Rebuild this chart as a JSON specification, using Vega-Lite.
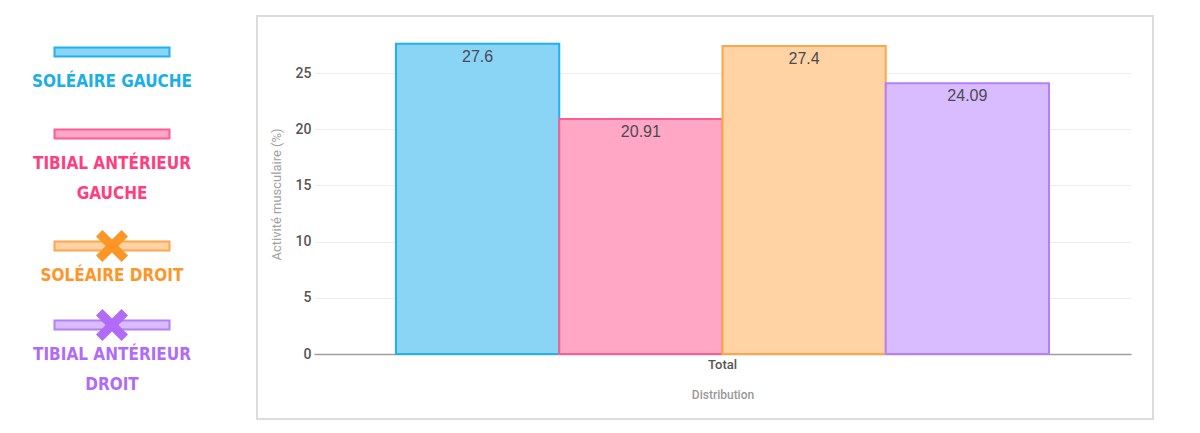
{
  "$schema": "https://vega.github.io/schema/vega-lite/v6.json",
  "description": "Activité musculaire par muscle, barres groupées avec légende à gauche.",
  "padding": {"top": 15, "left": 0, "right": 0, "bottom": 0},
  "spacing": 32,
  "datasets": {
    "muscles": [
      {"muscle": "Soléaire gauche", "group": "Total", "value": 27.6, "label": "SOLÉAIRE GAUCHE"},
      {"muscle": "Tibial antérieur gauche", "group": "Total", "value": 20.91, "label": "TIBIAL ANTÉRIEUR\nGAUCHE"},
      {"muscle": "Soléaire droit", "group": "Total", "value": 27.4, "label": "SOLÉAIRE DROIT"},
      {"muscle": "Tibial antérieur droit", "group": "Total", "value": 24.09, "label": "TIBIAL ANTÉRIEUR\nDROIT"}
    ]
  },
  "hconcat": [
    {
      "spacing": 0,
      "bounds": "flush",
      "vconcat": [
        {
          "width": 224, "height": 72,
          "data": {"name": "muscles"},
          "transform": [{"filter": "datum.muscle == 'Soléaire gauche'"}],
          "layer": [
            {"mark": {"type": "point", "shape": "M-1,-0.08H1V0.08H-1Z", "size": 13225, "filled": true, "opacity": 1, "strokeWidth": 2},
             "encoding": {
               "fill": {"field": "muscle", "type": "nominal", "scale": {"domain": ["Soléaire gauche", "Tibial antérieur gauche", "Soléaire droit", "Tibial antérieur droit"], "range": ["#8ad4f6", "#ffa7c4", "#ffd3a3", "#d9bbff"]}, "legend": null},
               "stroke": {"field": "muscle", "type": "nominal", "scale": {"domain": ["Soléaire gauche", "Tibial antérieur gauche", "Soléaire droit", "Tibial antérieur droit"], "range": ["#1fb2ec", "#ff5c91", "#ffa64d", "#b57ff7"]}, "legend": null}
             }},
            {"mark": {"type": "text", "align": "center", "baseline": "top", "dy": 22, "font": "DejaVu Sans Condensed, sans-serif", "fontWeight": "bold", "fontSize": 17, "letterSpacing": -0.7, "lineBreak": "\n", "lineHeight": 30},
             "encoding": {
               "text": {"field": "label", "type": "nominal"},
               "color": {"field": "muscle", "type": "nominal", "scale": {"domain": ["Soléaire gauche", "Tibial antérieur gauche", "Soléaire droit", "Tibial antérieur droit"], "range": ["#1aaeea", "#ff3d7f", "#ff9526", "#b26bf6"]}, "legend": null}
             }}
          ]
        },
        {
          "width": 224, "height": 92,
          "data": {"name": "muscles"},
          "transform": [{"filter": "datum.muscle == 'Tibial antérieur gauche'"}],
          "layer": [
            {"mark": {"type": "point", "shape": "M-1,-0.08H1V0.08H-1Z", "size": 13225, "filled": true, "opacity": 1, "strokeWidth": 2},
             "encoding": {
               "fill": {"field": "muscle", "type": "nominal", "scale": {"domain": ["Soléaire gauche", "Tibial antérieur gauche", "Soléaire droit", "Tibial antérieur droit"], "range": ["#8ad4f6", "#ffa7c4", "#ffd3a3", "#d9bbff"]}, "legend": null},
               "stroke": {"field": "muscle", "type": "nominal", "scale": {"domain": ["Soléaire gauche", "Tibial antérieur gauche", "Soléaire droit", "Tibial antérieur droit"], "range": ["#1fb2ec", "#ff5c91", "#ffa64d", "#b57ff7"]}, "legend": null}
             }},
            {"mark": {"type": "text", "align": "center", "baseline": "top", "dy": 22, "font": "DejaVu Sans Condensed, sans-serif", "fontWeight": "bold", "fontSize": 17, "letterSpacing": -0.7, "lineBreak": "\n", "lineHeight": 30},
             "encoding": {
               "text": {"field": "label", "type": "nominal"},
               "color": {"field": "muscle", "type": "nominal", "scale": {"domain": ["Soléaire gauche", "Tibial antérieur gauche", "Soléaire droit", "Tibial antérieur droit"], "range": ["#1aaeea", "#ff3d7f", "#ff9526", "#b26bf6"]}, "legend": null}
             }}
          ]
        },
        {
          "width": 224, "height": 132,
          "data": {"name": "muscles"},
          "transform": [{"filter": "datum.muscle == 'Soléaire droit'"}],
          "layer": [
            {"mark": {"type": "point", "shape": "M-1,-0.08H1V0.08H-1Z", "size": 13225, "filled": true, "opacity": 1, "strokeWidth": 2},
             "encoding": {
               "fill": {"field": "muscle", "type": "nominal", "scale": {"domain": ["Soléaire gauche", "Tibial antérieur gauche", "Soléaire droit", "Tibial antérieur droit"], "range": ["#8ad4f6", "#ffa7c4", "#ffd3a3", "#d9bbff"]}, "legend": null},
               "stroke": {"field": "muscle", "type": "nominal", "scale": {"domain": ["Soléaire gauche", "Tibial antérieur gauche", "Soléaire droit", "Tibial antérieur droit"], "range": ["#1fb2ec", "#ff5c91", "#ffa64d", "#b57ff7"]}, "legend": null}
             }},
            {"mark": {"type": "point", "shape": "M-1,-0.6L-0.6,-1L0,-0.4L0.6,-1L1,-0.6L0.4,0L1,0.6L0.6,1L0,0.4L-0.6,1L-1,0.6L-0.4,0Z", "size": 1024, "filled": true, "opacity": 1},
             "encoding": {
               "color": {"field": "muscle", "type": "nominal", "scale": {"domain": ["Soléaire gauche", "Tibial antérieur gauche", "Soléaire droit", "Tibial antérieur droit"], "range": ["#1aaeea", "#ff3d7f", "#ff9526", "#b26bf6"]}, "legend": null}
             }},
            {"mark": {"type": "text", "align": "center", "baseline": "top", "dy": 22, "font": "DejaVu Sans Condensed, sans-serif", "fontWeight": "bold", "fontSize": 17, "letterSpacing": -0.7, "lineBreak": "\n", "lineHeight": 30},
             "encoding": {
               "text": {"field": "label", "type": "nominal"},
               "color": {"field": "muscle", "type": "nominal", "scale": {"domain": ["Soléaire gauche", "Tibial antérieur gauche", "Soléaire droit", "Tibial antérieur droit"], "range": ["#1aaeea", "#ff3d7f", "#ff9526", "#b26bf6"]}, "legend": null}
             }}
          ]
        },
        {
          "width": 224, "height": 26,
          "data": {"name": "muscles"},
          "transform": [{"filter": "datum.muscle == 'Tibial antérieur droit'"}],
          "layer": [
            {"mark": {"type": "point", "shape": "M-1,-0.08H1V0.08H-1Z", "size": 13225, "filled": true, "opacity": 1, "strokeWidth": 2},
             "encoding": {
               "fill": {"field": "muscle", "type": "nominal", "scale": {"domain": ["Soléaire gauche", "Tibial antérieur gauche", "Soléaire droit", "Tibial antérieur droit"], "range": ["#8ad4f6", "#ffa7c4", "#ffd3a3", "#d9bbff"]}, "legend": null},
               "stroke": {"field": "muscle", "type": "nominal", "scale": {"domain": ["Soléaire gauche", "Tibial antérieur gauche", "Soléaire droit", "Tibial antérieur droit"], "range": ["#1fb2ec", "#ff5c91", "#ffa64d", "#b57ff7"]}, "legend": null}
             }},
            {"mark": {"type": "point", "shape": "M-1,-0.6L-0.6,-1L0,-0.4L0.6,-1L1,-0.6L0.4,0L1,0.6L0.6,1L0,0.4L-0.6,1L-1,0.6L-0.4,0Z", "size": 1024, "filled": true, "opacity": 1},
             "encoding": {
               "color": {"field": "muscle", "type": "nominal", "scale": {"domain": ["Soléaire gauche", "Tibial antérieur gauche", "Soléaire droit", "Tibial antérieur droit"], "range": ["#1aaeea", "#ff3d7f", "#ff9526", "#b26bf6"]}, "legend": null}
             }},
            {"mark": {"type": "text", "align": "center", "baseline": "top", "dy": 22, "font": "DejaVu Sans Condensed, sans-serif", "fontWeight": "bold", "fontSize": 17, "letterSpacing": -0.7, "lineBreak": "\n", "lineHeight": 30},
             "encoding": {
               "text": {"field": "label", "type": "nominal"},
               "color": {"field": "muscle", "type": "nominal", "scale": {"domain": ["Soléaire gauche", "Tibial antérieur gauche", "Soléaire droit", "Tibial antérieur droit"], "range": ["#1aaeea", "#ff3d7f", "#ff9526", "#b26bf6"]}, "legend": null}
             }}
          ]
        }
      ]
    },
    {
      "width": 896,
      "height": 403,
      "view": {"stroke": "#dcdcdc", "strokeWidth": 2},
      "data": {"name": "muscles"},
      "encoding": {
        "x": {
          "field": "group", "type": "nominal",
          "scale": {"range": [57, 874], "paddingInner": 0, "paddingOuter": 0.1256},
          "axis": {
            "orient": "bottom", "offset": -65, "labelAngle": 0,
            "domainColor": "#9e9e9e", "domainWidth": 1.5, "ticks": false,
            "labelPadding": 4, "labelColor": "#555555", "labelFont": "Roboto", "labelFontSize": 13, "labelFontWeight": 500,
            "title": "Distribution", "titleColor": "#999999", "titleFont": "Roboto", "titleFontSize": 12, "titleFontWeight": 500, "titlePadding": 18
          }
        },
        "xOffset": {
          "field": "muscle", "type": "nominal",
          "sort": ["Soléaire gauche", "Tibial antérieur gauche", "Soléaire droit", "Tibial antérieur droit"],
          "scale": {"paddingInner": 0, "paddingOuter": 0}
        },
        "y": {
          "field": "value", "type": "quantitative",
          "scale": {"domain": [0, 25], "range": [338, 57], "nice": false},
          "axis": {
            "values": [0, 5, 10, 15, 20, 25], "offset": -57,
            "domain": false, "ticks": false, "labelPadding": 3,
            "labelColor": "#555555", "labelFont": "Roboto", "labelFontSize": 14, "labelFontWeight": 500,
            "gridColor": "#eeeeee", "gridWidth": 1,
            "title": "Activité musculaire (%)", "titleColor": "#a0a0a0", "titleFont": "Roboto", "titleFontSize": 13, "titleFontWeight": "normal", "titlePadding": 12, "titleY": 178
          }
        }
      },
      "layer": [
        {
          "mark": {"type": "bar", "strokeWidth": 2},
          "encoding": {
            "fill": {"field": "muscle", "type": "nominal", "scale": {"domain": ["Soléaire gauche", "Tibial antérieur gauche", "Soléaire droit", "Tibial antérieur droit"], "range": ["#8ad4f6", "#ffa7c4", "#ffd3a3", "#d9bbff"]}, "legend": null},
            "stroke": {"field": "muscle", "type": "nominal", "scale": {"domain": ["Soléaire gauche", "Tibial antérieur gauche", "Soléaire droit", "Tibial antérieur droit"], "range": ["#1fb2ec", "#ff5c91", "#ffa64d", "#b57ff7"]}, "legend": null}
          }
        },
        {
          "mark": {"type": "text", "baseline": "top", "dy": 5, "font": "Liberation Sans", "fontSize": 16, "color": "#4a4a52"},
          "encoding": {"text": {"field": "value", "type": "nominal"}}
        }
      ]
    }
  ],
  "config": {
    "view": {"stroke": null},
    "font": "Roboto"
  }
}
